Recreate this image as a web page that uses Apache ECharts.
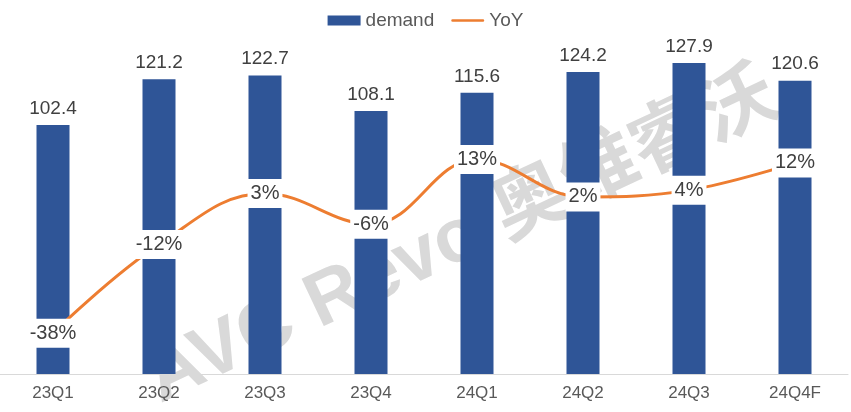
<!DOCTYPE html>
<html><head><meta charset="utf-8">
<script src="https://cdn.jsdelivr.net/npm/echarts@6/dist/echarts.min.js"></script>
<style>html,body{margin:0;padding:0;background:#fff}#c{width:851px;height:412px}</style>
</head><body><div id="c"></div>
<script>
var categories = ['23Q1','23Q2','23Q3','23Q4','24Q1','24Q2','24Q3','24Q4F'];
var demand = [102.4,121.2,122.7,108.1,115.6,124.2,127.9,120.6];
var yoy = [-38,-12,3,-6,13,2,4,12];

var chart = echarts.init(document.getElementById('c'));
chart.setOption({
  animation:false,
  textStyle:{fontFamily:'Liberation Sans, Arial, sans-serif'},
  graphic:[{
    type:'text', z:-10,
    x:462, y:238, rotation:0.44,
    style:{text:'AVC Revo 奥维睿沃', font:'bold 76px "Liberation Sans", "Noto Sans CJK SC", sans-serif',
      fill:'#D9D9D9', textAlign:'center', textVerticalAlign:'middle'}
  }],
  legend:{
    top:6, left:'center', itemWidth:33, itemHeight:10, itemGap:17,
    textStyle:{fontSize:19, color:'#595959'},
    data:[{name:'demand', icon:'rect'},
          {name:'YoY', icon:'path://M1.5,0 L35.5,0 A1.5,1.5 0 0 1 35.5,3 L1.5,3 A1.5,1.5 0 0 1 1.5,0 Z'}]
  },
  grid:{left:0, right:3, top:33.5, bottom:38, containLabel:false},
  xAxis:{
    type:'category', data:categories,
    axisLine:{lineStyle:{color:'#D9D9D9', width:1}},
    axisTick:{show:false},
    axisLabel:{fontSize:17, color:'#595959', margin:11}
  },
  yAxis:[
    {type:'value', min:0, max:140, show:false, splitLine:{show:false}},
    {type:'value', min:-50, max:50, show:false, splitLine:{show:false}}
  ],
  series:[
    {name:'demand', type:'bar', data:demand, barWidth:33, yAxisIndex:0,
     itemStyle:{color:'#2F5597'},
     label:{show:true, position:'top', distance:7, fontSize:19, color:'#404040'}},
    {name:'YoY', type:'line', data:yoy, yAxisIndex:1, smooth:0.4,
     symbol:'none', lineStyle:{color:'#ED7D31', width:3}, itemStyle:{color:'#ED7D31'}},
    {name:'YoYLabels', type:'scatter', data:yoy, yAxisIndex:1, symbolSize:2,
     itemStyle:{color:'rgba(255,255,255,0)', opacity:1}, z:5, silent:true,
     emphasis:{disabled:true},
     label:{show:true, position:'inside', formatter:'{c}%', fontSize:20, color:'#404040',
       backgroundColor:'#fff', padding:[5,3,4,3]}}
  ]
});
</script></body></html>
